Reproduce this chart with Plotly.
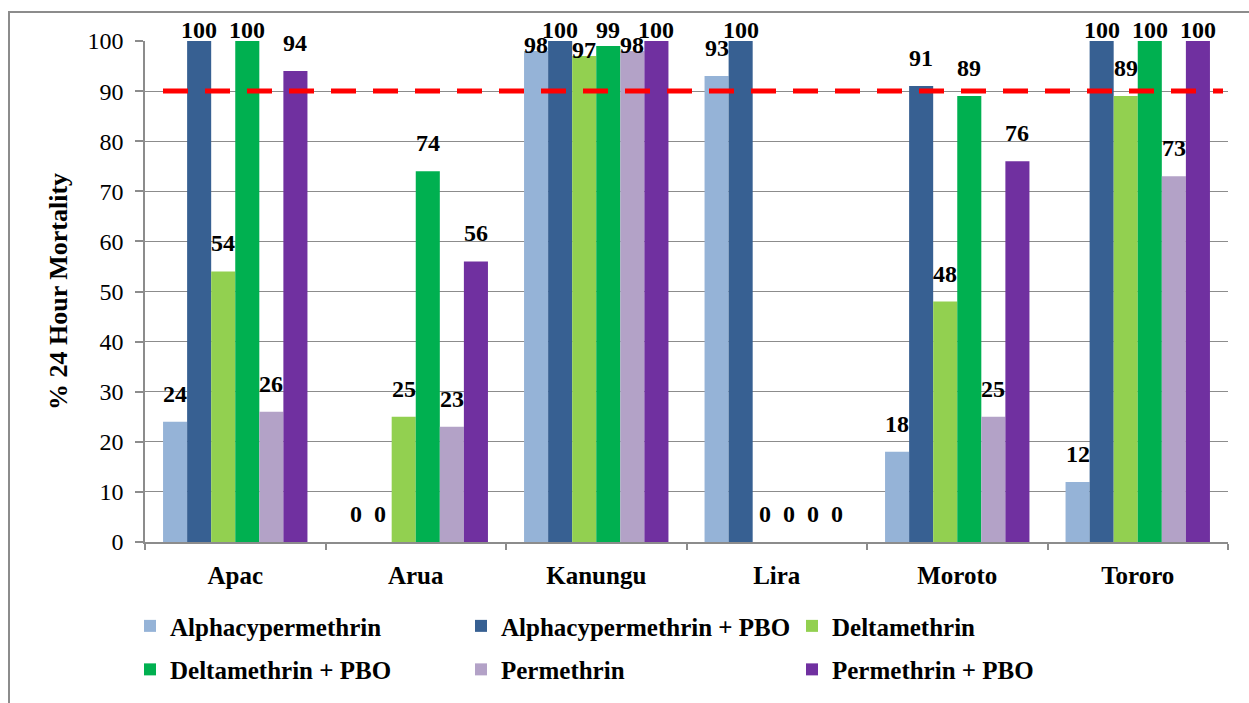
import plotly.graph_objects as go

# ---- data ----
sites = ["Apac", "Arua", "Kanungu", "Lira", "Moroto", "Tororo"]
series_names = [
    "Alphacypermethrin",
    "Alphacypermethrin + PBO",
    "Deltamethrin",
    "Deltamethrin + PBO",
    "Permethrin",
    "Permethrin + PBO",
]
alphacypermethrin = [24, 0, 98, 93, 18, 12]
alphacypermethrin_pbo = [100, 0, 100, 100, 91, 100]
deltamethrin = [54, 25, 97, 0, 48, 89]
deltamethrin_pbo = [100, 74, 99, 0, 89, 100]
permethrin = [26, 23, 98, 0, 25, 73]
permethrin_pbo = [94, 56, 100, 0, 76, 100]
threshold = 90
y_ticks = [0, 10, 20, 30, 40, 50, 60, 70, 80, 90, 100]

values = [alphacypermethrin, alphacypermethrin_pbo, deltamethrin,
          deltamethrin_pbo, permethrin, permethrin_pbo]
colors = ["#95B3D7", "#376092", "#92D050", "#00B050", "#B3A2C7", "#7030A0"]
legend_of = ["legend", "legend2", "legend3", "legend", "legend2", "legend3"]

# ---- layout constants ----
W, H = 1249, 703
ML, MR, MT, MB = 145, 21, 41, 161
PW, PH = W - ML - MR, H - MT - MB
BARGAP = 0.2
FONT = "Liberation Serif, DejaVu Serif, serif"
GRAY = "#8c8c8c"

fig = go.Figure()
for i, (name, vals, col) in enumerate(zip(series_names, values, colors)):
    fig.add_trace(go.Bar(
        name=f"<b>{name}</b>", x=sites, y=vals, marker_color=col,
        marker_line_width=0, legend=legend_of[i], legendgroup=name,
    ))

# data labels (Excel-like: sit above bar, pulled down near the plot top)
px_per_unit = PH / 100.0
cat_px = PW / len(sites)
bar_px = cat_px * (1 - BARGAP) / len(series_names)
annotations = []
for i, vals in enumerate(values):
    for site, v in zip(sites, vals):
        room = (100 - v) * px_per_unit - 4
        if room >= 13:
            ysh = 13
        elif v >= 99:
            ysh = room
        else:
            ysh = -9
        annotations.append(dict(
            x=site, y=v, xref="x", yref="y", text=f"<b>{v}</b>",
            showarrow=False, xanchor="center", yanchor="bottom",
            xshift=(i - 2.5) * bar_px, yshift=ysh,
            font=dict(family=FONT, size=24, color="black"),
        ))

shapes = [
    dict(type="line", xref="paper", yref="y",
         x0=(163 - ML) / PW, x1=(1223 - ML) / PW, y0=threshold, y1=threshold,
         line=dict(color="#FF0000", width=5, dash="25px,17px"), layer="above"),
    dict(type="rect", xref="paper", yref="paper",
         x0=(9 - ML) / PW, x1=1.3, y0=-0.6, y1=(PH + MT - 12) / PH,
         line=dict(color=GRAY, width=2), layer="below"),
]

legend_base = dict(
    orientation="v", yanchor="top", y=-0.122, xanchor="left",
    font=dict(family=FONT, size=25, color="black"),
    bgcolor="rgba(0,0,0,0)", traceorder="grouped", tracegroupgap=8,
    itemclick=False,
)

fig.update_layout(
    width=W, height=H,
    margin=dict(l=ML, r=MR, t=MT, b=MB, autoexpand=False),
    paper_bgcolor="white", plot_bgcolor="white",
    barmode="group", bargap=BARGAP, bargroupgap=0,
    font=dict(family=FONT, size=24, color="black"),
    annotations=annotations, shapes=shapes,
    legend=dict(legend_base, x=(150 - 20 - ML) / PW),
    legend2=dict(legend_base, x=(481 - 20 - ML) / PW),
    legend3=dict(legend_base, x=(812 - 20 - ML) / PW),
    showlegend=True,
)
fig.update_xaxes(
    type="category", showline=True, linecolor=GRAY, linewidth=1.5,
    ticks="outside", tickson="boundaries", ticklen=6, tickcolor=GRAY,
    tickwidth=1.5, showgrid=False, ticklabelstandoff=10,
    tickfont=dict(family=FONT, size=25, color="black"),
    tickprefix="<b>", ticksuffix="</b>",
)
fig.update_yaxes(
    range=[0, 100], tickvals=y_ticks, showline=True, linecolor=GRAY,
    linewidth=1.5, ticks="outside", ticklen=8, tickcolor=GRAY, tickwidth=1.5,
    showgrid=True, gridcolor=GRAY, gridwidth=1.3, zeroline=False,
    tickfont=dict(family=FONT, size=24, color="black"),
    tickprefix="<b>", ticksuffix="</b>", ticklabelstandoff=7,
    title=dict(text="<b>% 24 Hour Mortality</b>",
               font=dict(family=FONT, size=26, color="black"), standoff=12),
)

fig.write_html("out.html")
